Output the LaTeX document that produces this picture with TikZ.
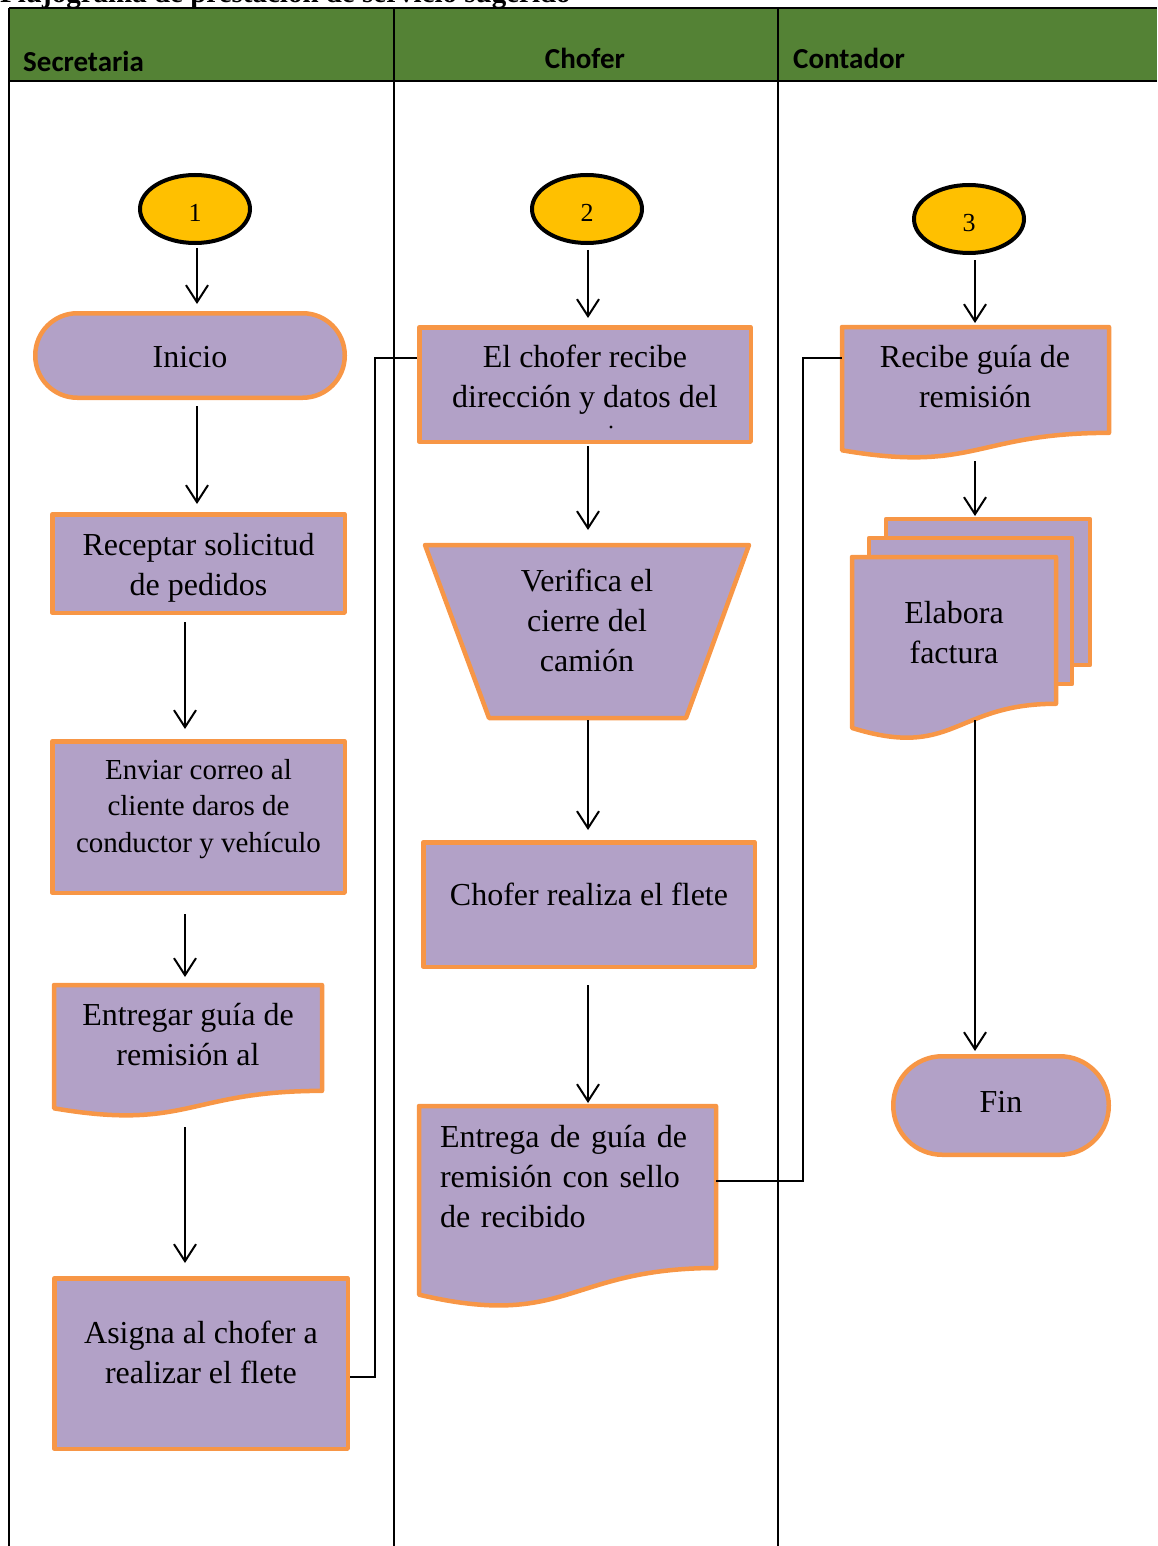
\documentclass[tikz,border=0pt]{standalone}
\usepackage{fontspec}
\setmainfont{Liberation Serif}
\newfontfamily\hdrfont{Carlito}
\usetikzlibrary{arrows.meta,shapes.geometric}
\definecolor{lanegreen}{RGB}{84,130,53}
\definecolor{boxorange}{RGB}{247,150,70}
\definecolor{boxpurple}{RGB}{178,161,199}
\definecolor{connyellow}{RGB}{255,192,0}
\newcommand\bodyfont{\fontsize{32}{40}\selectfont}
\newcommand\smallbody{\fontsize{29}{36.5}\selectfont}
\newcommand\docshape[4]{\draw[shp] (#1,#2) -- ({#1+#3},#2) -- ({#1+#3},{#2+0.802*#4}) .. controls ({#1+0.5*#3},{#2+0.802*#4}) and ({#1+0.5*#3},{#2+1.1075*#4}) .. (#1,{#2+0.934*#4}) -- cycle;}
\begin{document}
\begin{tikzpicture}[x=1pt,y=-1pt,
  shp/.style={draw=boxorange, fill=boxpurple, line width=4.5pt, line join=round},
  procbox/.style={shp, rectangle, inner sep=0pt},
  termbox/.style={shp, rectangle, rounded corners=#1, inner sep=0pt},
  conn/.style={ellipse, draw=black, fill=connyellow, line width=4pt, inner sep=0pt, minimum width=110pt, minimum height=68pt, font=\fontsize{26}{30}\selectfont, text height=26pt, text depth=0pt},
  txt/.style={align=center, font=\bodyfont, inner sep=0pt, execute at begin node=\strut, execute at end node=\strut},
  arr/.style={line width=2pt, -{Straight Barb[length=17pt,width=22pt,line width=2pt]}},
  link/.style={line width=1.5pt},
  hdr/.style={font=\hdrfont\bfseries\fontsize{29}{34}\selectfont, inner sep=0pt, anchor=base west}
]
\useasboundingbox (0,0) rectangle (1157,1546);

% title (cut off at the top, as in the source page)
\node[anchor=base west, inner sep=0pt, font=\bfseries\fontsize{29}{34}\selectfont] (title) at (0,3) {Flujograma de prestación de servicio sugerido};

% lanes
\fill[lanegreen] (9,8) rectangle (1157,81);
\draw[line width=2pt] (9,8) -- (1157,8);
\draw[line width=2.5pt] (9,81) -- (1157,81);
\draw[line width=2pt] (9,8) -- (9,1546);
\draw[line width=2pt] (394,8) -- (394,1546);
\draw[line width=2pt] (778,8) -- (778,1546);
\node[hdr] (hSec) at (23,72) {Secretaria};
\node[hdr, anchor=base] (hCho) at (585,69) {Chofer};
\node[hdr] (hCon) at (793,69) {Contador};

% connectors
\node[conn] (c1) at (195,209) {1};
\node[conn] (c2) at (587,209) {2};
\node[conn] (c3) at (969,219) {3};

% Secretaria
\node[termbox=42pt, minimum width=309.5pt, minimum height=84.5pt] (inicio) at (190,355.5) {};
\node[txt] (inicioT) at (190,359) {Inicio};
\node[procbox, minimum width=292.5pt, minimum height=98.5pt] (receptar) at (198.5,563.5) {};
\node[txt] (receptarT) at (198.5,570.5) {Receptar solicitud\\de pedidos};
\node[procbox, minimum width=292.5pt, minimum height=151.5pt] (enviar) at (198.5,817) {};
\node[txt, font=\smallbody] (enviarT) at (198.5,811) {Enviar correo al\\cliente daros de\\conductor y vehículo};
\docshape{54}{985}{268}{132}
\coordinate (entregarGtop) at (185,985);
\coordinate (entregarGbot) at (185,1127);
\node[txt] (entregarGT) at (188,1040.5) {Entregar guía de\\remisión al};
\node[procbox, minimum width=293.5pt, minimum height=170.5pt] (asigna) at (201,1363.5) {};
\node[txt] (asignaT) at (201,1358.5) {Asigna al chofer a\\realizar el flete};

% Chofer
\node[procbox, minimum width=331.5pt, minimum height=114.5pt] (elchofer) at (585,384.5) {};
\node[txt] (elchoferT) at (585,382.5) {El chofer recibe\\dirección y datos del};
\fill (611,427) circle (1.6);
\draw[shp] (425,545) -- (749,545) -- (686,718) -- (489,718) -- cycle;
\coordinate (verTop) at (588,545);
\coordinate (verBot) at (588,718);
\node[txt] (verificaT) at (587,626.5) {Verifica el\\cierre del\\camión};
\node[procbox, minimum width=331.5pt, minimum height=124.5pt] (realiza) at (589,904.5) {};
\node[txt] (realizaT) at (589,897) {Chofer realiza el flete};
\docshape{419}{1106}{297}{202}
\coordinate (entTop) at (588,1106);
\coordinate (entRight) at (716,1181);
\node[txt, align=left, text width=255pt] (entregaT) at (567.5,1179.5) {\makebox[255pt][s]{Entrega de guía de}\\\makebox[255pt][s]{remisión con sello}\\de recibido};

% Contador
\docshape{842}{327}{267}{132}
\coordinate (recTop) at (975,327);
\coordinate (recBot) at (975,461);
\coordinate (recLeft) at (842,358);
\node[txt] (recibeT) at (975,382.5) {Recibe guía de\\remisión};
\draw[shp] (886,519) rectangle (1090,665);
\draw[shp] (869,538) rectangle (1072,684);
\docshape{852}{557}{204}{183}
\coordinate (mdTop) at (975,519);
\coordinate (mdBot) at (975,720);
\node[txt] (elaboraT) at (954,638.5) {Elabora\\factura};
\node[termbox=49pt, minimum width=215.5pt, minimum height=98.5pt] (fin) at (1001,1105.5) {};
\node[txt] (finT) at (1001,1104) {Fin};

% arrows
\draw[arr, shorten <=3pt, shorten >=7pt] ([xshift=2pt]c1.south) -- ([xshift=2pt]c1.south |- inicio.north);
\draw[arr, shorten <=6pt, shorten >=8pt] ([xshift=7pt]inicio.south) -- ([xshift=7pt]inicio.south |- receptar.north);
\draw[arr, shorten <=7pt, shorten >=10pt] ([xshift=-13.5pt]receptar.south) -- ([xshift=-13.5pt]receptar.south |- enviar.north);
\draw[arr, shorten <=19pt, shorten >=8pt] ([xshift=-13.5pt]enviar.south) -- (entregarGtop);
\draw[arr, shorten >=13pt] (entregarGbot) -- (entregarGbot |- asigna.north);
\draw[arr, shorten <=5pt, shorten >=7pt] ([xshift=1pt]c2.south) -- ([xshift=1pt]c2.south |- elchofer.north);
\draw[arr, shorten <=2pt, shorten >=15pt] ([xshift=3pt]elchofer.south) -- (verTop);
\draw[arr, shorten <=2pt, shorten >=10pt] (verBot) -- (verBot |- realiza.north);
\draw[arr, shorten <=16pt, shorten >=3pt] ([xshift=-1pt]realiza.south) -- (entTop);
\draw[arr, shorten <=5pt, shorten >=4pt] ([xshift=6pt]c3.south) -- (recTop);
\draw[arr, shorten >=3pt] (recBot) -- (mdTop);
\draw[arr, shorten >=3pt] (mdBot) -- (mdBot |- fin.north);

% links between lanes
\draw[link] ([yshift=-13.5pt]asigna.east) -- ++(25,0) |- ([yshift=26.5pt]elchofer.west);
\draw[link] (entRight) -- ++(87,0) |- (recLeft);
\end{tikzpicture}
\end{document}
